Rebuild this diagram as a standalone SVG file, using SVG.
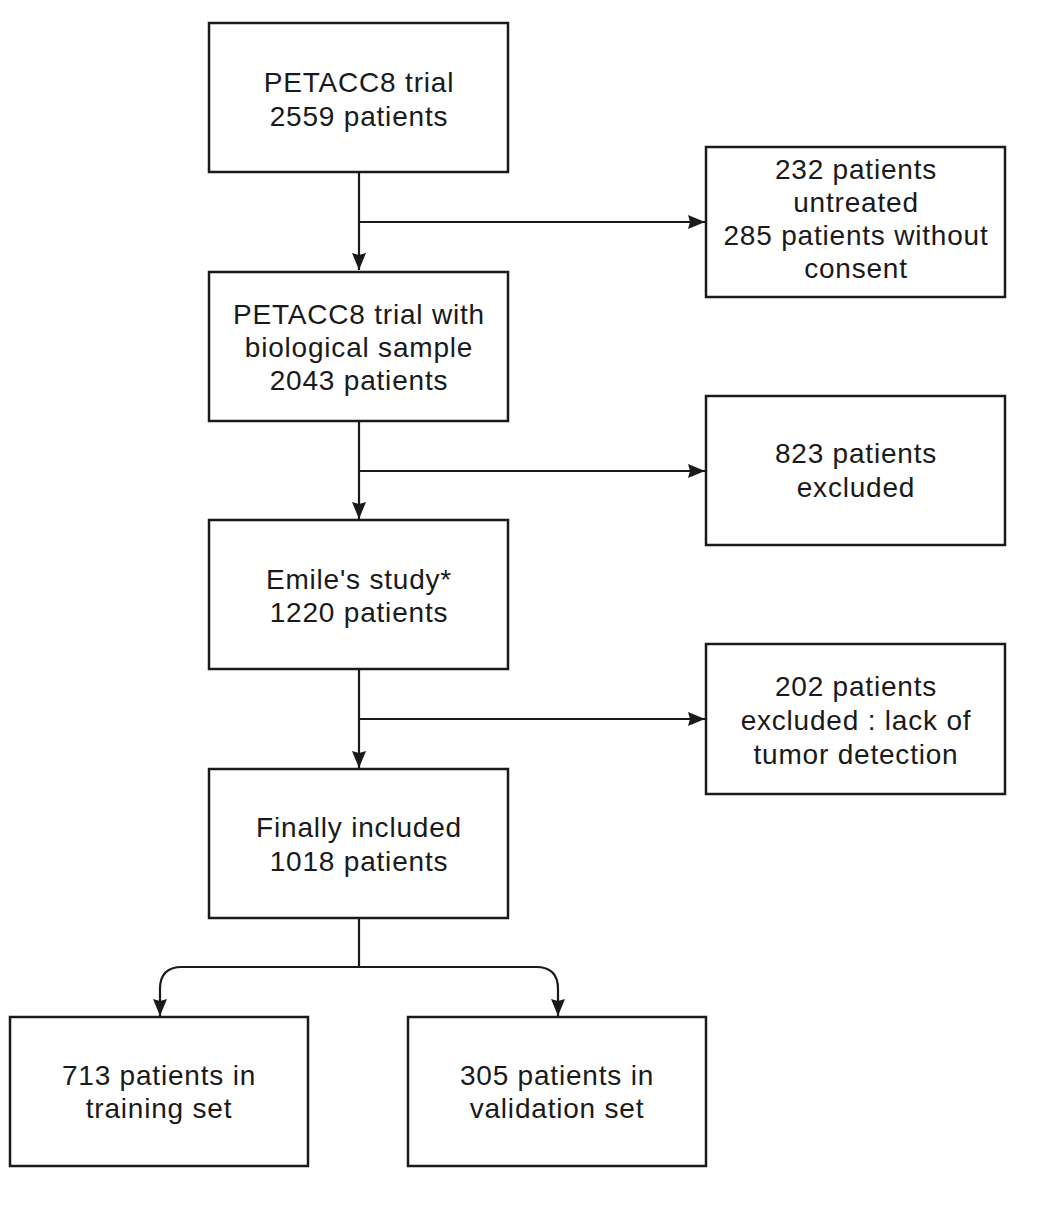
<svg xmlns="http://www.w3.org/2000/svg" width="1040" height="1216" viewBox="0 0 1040 1216">
<style>
.box{fill:#ffffff;stroke:#1a1a1a;stroke-width:2.5}
.lbl{font-family:"Liberation Sans",Arial,Helvetica,sans-serif;font-size:28px;letter-spacing:0.8px;fill:#1a1a1a;text-anchor:middle}
.edge{fill:none;stroke:#1a1a1a;stroke-width:2.2}
</style>
<defs>
<marker id="arr" viewBox="0 0 17 14" refX="17" refY="7" markerWidth="17" markerHeight="14" markerUnits="userSpaceOnUse" orient="auto">
<path d="M0,0 L17,7 L0,14 L2,7 Z" fill="#1a1a1a"/>
</marker>
</defs>
<rect width="1040" height="1216" fill="#ffffff"/>
<g id="connectors">
<path class="edge" d="M359,172 L359,270" marker-end="url(#arr)"/>
<path class="edge" d="M359,222 L705,222" marker-end="url(#arr)"/>
<path class="edge" d="M359,421 L359,519" marker-end="url(#arr)"/>
<path class="edge" d="M359,471 L705,471" marker-end="url(#arr)"/>
<path class="edge" d="M359,669 L359,768" marker-end="url(#arr)"/>
<path class="edge" d="M359,719 L705,719" marker-end="url(#arr)"/>
<path class="edge" d="M359,918 L359,967"/>
<path class="edge" d="M359,967 L182,967 Q160,967 160,989 L160,1016" marker-end="url(#arr)"/>
<path class="edge" d="M359,967 L536,967 Q558,967 558,989 L558,1016" marker-end="url(#arr)"/>
</g>
<g id="n1">
<rect class="box" x="209" y="23" width="299" height="149"/>
<text class="lbl" x="359" y="92">PETACC8 trial</text>
<text class="lbl" x="359" y="126">2559 patients</text>
</g>
<g id="n2">
<rect class="box" x="209" y="272" width="299" height="149"/>
<text class="lbl" x="359" y="324">PETACC8 trial with</text>
<text class="lbl" x="359" y="357">biological sample</text>
<text class="lbl" x="359" y="390">2043 patients</text>
</g>
<g id="n3">
<rect class="box" x="209" y="520" width="299" height="149"/>
<text class="lbl" x="359" y="589">Emile's study*</text>
<text class="lbl" x="359" y="622">1220 patients</text>
</g>
<g id="n4">
<rect class="box" x="209" y="769" width="299" height="149"/>
<text class="lbl" x="359" y="837">Finally included</text>
<text class="lbl" x="359" y="871">1018 patients</text>
</g>
<g id="r1">
<rect class="box" x="706" y="147" width="299" height="150"/>
<text class="lbl" x="856" y="179">232 patients</text>
<text class="lbl" x="856" y="212">untreated</text>
<text class="lbl" x="856" y="245">285 patients without</text>
<text class="lbl" x="856" y="278">consent</text>
</g>
<g id="r2">
<rect class="box" x="706" y="396" width="299" height="149"/>
<text class="lbl" x="856" y="463">823 patients</text>
<text class="lbl" x="856" y="497">excluded</text>
</g>
<g id="r3">
<rect class="box" x="706" y="644" width="299" height="150"/>
<text class="lbl" x="856" y="696">202 patients</text>
<text class="lbl" x="856" y="730">excluded : lack of</text>
<text class="lbl" x="856" y="764">tumor detection</text>
</g>
<g id="b1">
<rect class="box" x="10" y="1017" width="298" height="149"/>
<text class="lbl" x="159" y="1085">713 patients in</text>
<text class="lbl" x="159" y="1118">training set</text>
</g>
<g id="b2">
<rect class="box" x="408" y="1017" width="298" height="149"/>
<text class="lbl" x="557" y="1085">305 patients in</text>
<text class="lbl" x="557" y="1118">validation set</text>
</g>
</svg>
